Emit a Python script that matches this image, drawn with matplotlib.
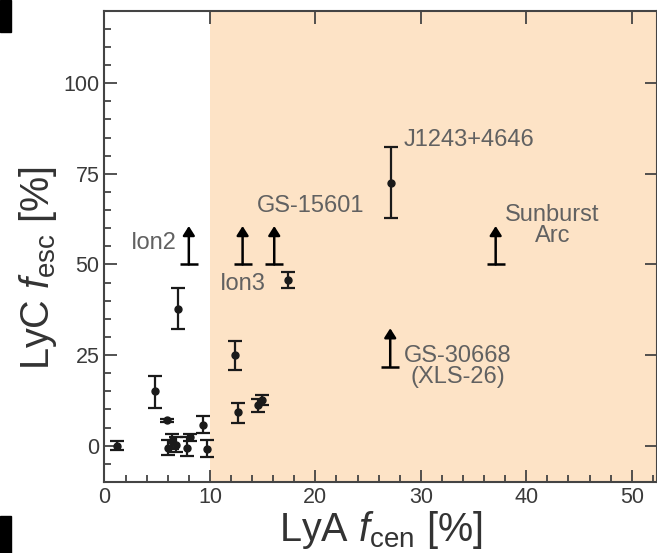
import matplotlib.pyplot as plt
from matplotlib.patches import Rectangle

plt.rcParams['font.family'] = ['Liberation Sans', 'DejaVu Sans']
plt.rcParams['mathtext.fontset'] = 'custom'
plt.rcParams['mathtext.rm'] = 'Liberation Sans'
plt.rcParams['mathtext.it'] = 'Liberation Sans:italic'

# measured points: LyA f_cen, LyC f_esc and asymmetric errors
fcen = [1.2, 4.8, 7.0, 5.9, 6.0, 6.4, 6.8, 7.8, 8.1, 9.3, 9.7,
        12.4, 12.7, 14.6, 14.9, 17.4, 27.2]
fesc = [0.0, 15.0, 37.8, 7.0, -0.5, 1.2, 0.3, -0.5, 2.3, 5.8, -0.8,
        24.9, 9.2, 11.2, 12.6, 45.8, 72.6]
err_lo = [1.2, 4.5, 5.7, 0.5, 2.0, 2.0, 2.0, 2.2, 1.0, 2.3, 2.2,
          3.9, 2.8, 1.8, 1.3, 2.2, 9.9]
err_hi = [1.2, 4.1, 5.8, 0.5, 2.0, 2.0, 2.0, 2.9, 1.0, 2.4, 2.5,
          3.9, 2.7, 1.8, 1.3, 2.0, 9.7]

# lower limits
lim_x = [8.0, 13.1, 16.1, 27.1, 37.1]
lim_y = [50.0, 50.0, 50.0, 21.8, 50.0]

# labels
names = ['Ion2', 'Ion3', 'GS-15601', 'J1243+4646', 'Sunburst\nArc', 'GS-30668\n(XLS-26)']
name_x = [6.9, 10.9, 14.5, 28.4, 42.5, 28.4]
name_y = [55.8, 44.7, 66.0, 84.2, 60.8, 21.9]
name_ha = ['right', 'left', 'left', 'left', 'center', 'left']

fig = plt.figure(figsize=(6.57, 5.53), dpi=100)
ax = fig.add_axes([0.159, 0.1284, 0.841, 0.8523])

ax.axvspan(10, 60, color='#fde3c6', lw=0, zorder=0)

ax.errorbar(fcen, fesc, yerr=[err_lo, err_hi], fmt='o', color='#1a1a1a',
            ms=5, elinewidth=1.6, capsize=5, capthick=1.6, zorder=3)

# lower limit arrows: cap at the limit, arrow pointing up
ax.scatter(lim_x, lim_y, marker='_', s=160, color='black', linewidths=1.8, zorder=3)
for x, y in zip(lim_x, lim_y):
    ax.annotate('', xy=(x, y + 10.6), xytext=(x, y),
                arrowprops=dict(arrowstyle='-|>,head_length=0.55,head_width=0.35',
                                color='black', lw=1.8, shrinkA=0, shrinkB=0))

for t, x, y, ha in zip(names, name_x, name_y, name_ha):
    ax.text(x, y, t, ha=ha, va='center', fontsize=17, color='#616161',
            multialignment='center', linespacing=0.95)

ax.set_xlim(0, 52.4)
ax.set_ylim(-10, 120)
ax.set_xticks([0, 10, 20, 30, 40, 50])
ax.set_xticks(range(0, 53, 2), minor=True)
ax.set_yticks([0, 25, 50, 75, 100])
ax.set_yticks(range(-10, 121, 5), minor=True)
ax.tick_params(which='both', direction='in', colors='#444444', labelcolor='#3a3a3a',
               labelsize=15.5, width=1.3)
ax.tick_params(which='major', length=9, top=True, right=True)
ax.tick_params(which='minor', length=5)
for s in ax.spines.values():
    s.set_color('#444444')
    s.set_linewidth(1.5)

ax.set_xlabel(r'LyA $f_{\rm cen}$ [%]', fontsize=28.5, color='#333333', labelpad=1)
ax.set_ylabel(r'LyC $f_{\rm esc}$ [%]', fontsize=28.5, color='#333333')
ax.yaxis.set_label_coords(-0.082, 0.455)

# black crop marks at the left edge of the original image
fig.patches.append(Rectangle((0, 1 - 32 / 553), 11 / 657, 32 / 553,
                             transform=fig.transFigure, color='black', zorder=5))
fig.patches.append(Rectangle((0, 0), 11 / 657, 37 / 553,
                             transform=fig.transFigure, color='black', zorder=5))

fig.savefig('out.png', dpi=100)
